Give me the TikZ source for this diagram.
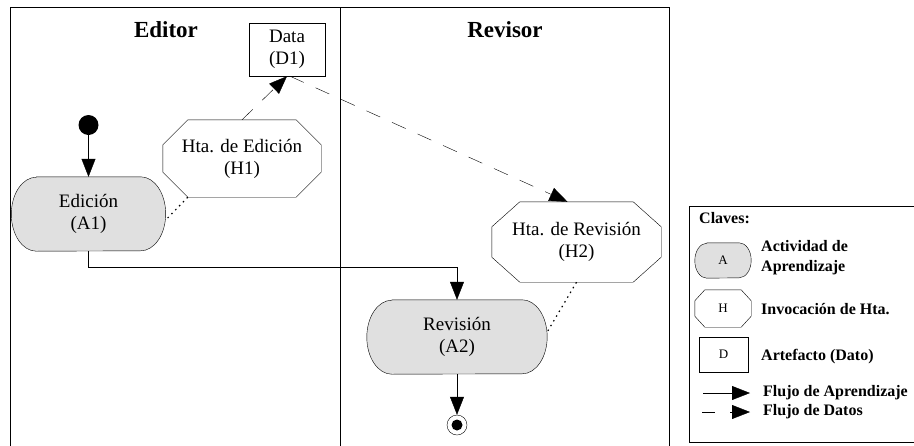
\documentclass[tikz,border=0pt]{standalone}
\usepackage{fontspec}
\setmainfont{Liberation Serif}
\usetikzlibrary{arrows.meta}
\pgfdeclarelayer{bg}
\pgfsetlayers{bg,main}
\newcommand\actoutline[3]{%
  \begin{pgfonlayer}{bg}
  \path[actfill] ([xshift=#2]#1.north west) -- ([xshift=-#2]#1.north east)
    arc[start angle=90,end angle=-90,x radius=#2,y radius=#3]
    -- ([xshift=#2]#1.south west)
    arc[start angle=270,end angle=90,x radius=#2,y radius=#3] -- cycle;
  \end{pgfonlayer}}
\newcommand\octoutline[3]{%
  \begin{pgfonlayer}{bg}
  \draw[fill=white] ([xshift=#2]#1.north west) -- ([xshift=-#2]#1.north east)
    -- ([yshift=-#3]#1.north east) -- ([yshift=#3]#1.south east)
    -- ([xshift=-#2]#1.south east) -- ([xshift=#2]#1.south west)
    -- ([yshift=#3]#1.south west) -- ([yshift=-#3]#1.north west) -- cycle;
  \end{pgfonlayer}}
\begin{document}
\begin{tikzpicture}[x=1pt,y=-1pt, line width=1pt,
  txt/.style={font=\fontsize{19}{22}\selectfont, align=center, inner sep=0pt, rectangle},
  ttl/.style={font=\fontsize{23}{25}\selectfont\bfseries, inner sep=0pt},
  leg/.style={font=\fontsize{16}{20}\selectfont\bfseries, align=left, inner sep=0pt, anchor=west},
  legsym/.style={font=\fontsize{13}{15}\selectfont, inner sep=0pt, rectangle},
  tip/.style={-{Triangle[length=18pt,width=14pt]}},
  flow/.style={tip},
  dataflow/.style={tip, dash pattern=on 15pt off 13pt},
  assoc/.style={line width=1.2pt, dash pattern=on 1.5pt off 4pt},
  actfill/.style={fill=black!12, draw=black},
]
\useasboundingbox (0,0) rectangle (914,445);
\begin{pgfonlayer}{bg}
\fill[white] (0,0) rectangle (914,445);
\end{pgfonlayer}

% swimlanes
\draw (10,447) -- (10,7) -- (669,7) -- (669,447);
\draw (340,7) -- (340,447);
\node[ttl] (ted) at (166,30) {Editor};
\node[ttl] (trev) at (505,30) {Revisor};

% data artefact
\node[txt, draw, minimum width=76pt, minimum height=53pt] (d1) at (287,49.5) {Data\\(D1)};

% start
\node[circle, fill=black, minimum size=20pt, inner sep=0pt] (start) at (88.5,125) {};

% activities
\node[txt, minimum width=154pt, minimum height=74pt] (a1) at (88.5,214) {Edición\\(A1)};
\actoutline{a1}{25pt}{37pt}
\node[txt, minimum width=180pt, minimum height=74pt] (a2) at (457,337) {Revisión\\(A2)};
\actoutline{a2}{25pt}{37pt}

% tools
\node[txt, minimum width=158pt, minimum height=77pt] (h1) at (242,158.5) {Hta. de Edición\\(H1)};
\octoutline{h1}{25pt}{25pt}
\node[txt, minimum width=169pt, minimum height=80pt] (h2) at (576.5,242) {Hta. de Revisión\\(H2)};
\octoutline{h2}{28pt}{25pt}

% final
\node[circle, draw, minimum size=20pt, inner sep=0pt] (fin) at (457,425) {};
\node[circle, fill=black, minimum size=11pt, inner sep=0pt] (fincore) at (fin) {};

% connectors
\draw[flow] (start) -- (a1.north);
\draw[flow] (a1.south) -- ++(0,16) -| (a2.north);
\draw[flow] (a2.south) -- (fin.north);
\draw[assoc] ([xshift=25pt]h1.south west) -- ([yshift=-6pt]a1.east);
\draw[assoc] (h2.south) -- ([yshift=5pt]a2.east);
\draw[dataflow] (h1.north) -- (d1.south);
\draw[dataflow] ([xshift=3pt]d1.south) -- ([xshift=-9pt]h2.north);

% legend
\draw (916,206) -- (689,206) -- (689,442) -- (916,442);
\node[leg] (clv) at (699,218) {Claves:};
\node[legsym, minimum width=56pt, minimum height=35pt] (ka) at (723,260.5) {A};
\actoutline{ka}{12pt}{17.5pt}
\node[leg] (kat) at (761,258) {Actividad de\\Aprendizaje};
\node[legsym, minimum width=56pt, minimum height=37pt] (kh) at (723,308.5) {H};
\octoutline{kh}{10pt}{11pt}
\node[leg] (kht) at (761,309) {Invocación de Hta.};
\node[legsym, draw, minimum width=49pt, minimum height=35pt] (kd) at (723.5,354.5) {D};
\node[leg] (kdt) at (761,357) {Artefacto (Dato)};
\coordinate (kf1) at (703,393);
\coordinate (kf2) at (750,393);
\draw[flow] (kf1) -- (kf2);
\node[leg] (kft) at (763,393) {Flujo de Aprendizaje};
\coordinate (kg1) at (702,412);
\coordinate (kg2) at (750,412);
\draw[tip, dash pattern=on 13pt off 15pt] (kg1) -- (kg2);
\node[leg] (kgt) at (763,412) {Flujo de Datos};
\end{tikzpicture}
\end{document}
